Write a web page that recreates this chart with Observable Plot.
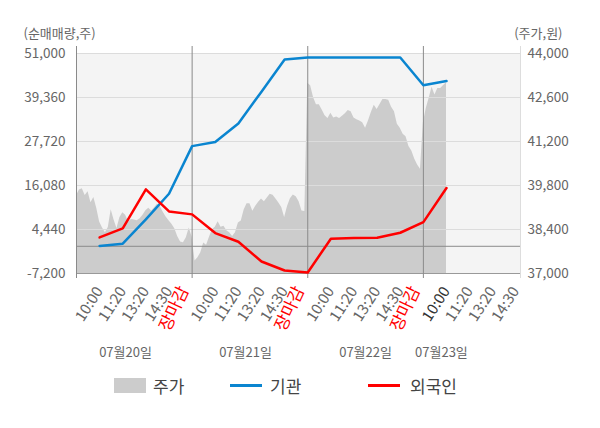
<!DOCTYPE html>
<html><head><meta charset="utf-8">
<script src="https://cdn.jsdelivr.net/npm/d3@7"></script>
<script src="https://cdn.jsdelivr.net/npm/@observablehq/plot@0.6"></script>
<style>
body{margin:0;background:#fff;font-family:"Noto Sans CJK KR","Noto Sans",sans-serif;}
#wrap{position:relative;width:600px;height:428px;overflow:hidden;}
#legend{position:absolute;left:0;top:371px;width:600px;height:30px;font-size:17px;color:#444;}
#legend .it{position:absolute;top:0;line-height:30px;}
#legend .sw{position:absolute;}
</style></head><body><div id="wrap"><div id="chart"></div>
<div id="legend">
  <div class="sw" style="left:114px;top:7px;width:32px;height:15px;background:#cccccc"></div>
  <div class="it" style="left:153px">주가</div>
  <div class="sw" style="left:230px;top:13px;width:32px;height:3px;background:#0a85d0"></div>
  <div class="it" style="left:270px">기관</div>
  <div class="sw" style="left:368px;top:13px;width:32px;height:3px;background:#ff0000"></div>
  <div class="it" style="left:410px">외국인</div>
</div></div>
<script>
const xLabels = ["10:00","11:20","13:20","14:30","장마감",
                 "10:00","11:20","13:20","14:30","장마감",
                 "10:00","11:20","13:20","14:30","장마감",
                 "10:00","11:20","13:20","14:30"];
const dayLabels = ["07월20일","07월21일","07월22일","07월23일"];
const dayLabelAt = [2.12, 7.31, 12.5, 15.78];
const leftTicks = [-7200, 4440, 16080, 27720, 39360, 51000];
const rightTicks = [37000, 38400, 39800, 41200, 42600, 44000];

// 주가 (원), sampled evenly through each session
const price20 = [39470,39660,39700,39480,39600,39250,39420,39080,38640,38450,
                 38300,38460,39030,38700,38430,38770,38930,38850,38640,38720,
                 38700,38680,38740,38850,39000,39080,38990,39090,39200,39120,
                 38950,38800,38680,38570,38420,38180,38000,37980,38140,38450];
const price21 = [38150,37400,37500,37660,37970,37900,38150,38390,38470,38650,
                 38470,38500,38360,38300,38180,38300,38610,38670,39020,39220,
                 39220,38980,39140,39270,39370,39280,39400,39520,39490,39370,
                 39240,39100,38780,39130,39380,39500,39440,39280,38990,38970];
const price22 = [43050,42970,42600,42370,42370,42200,42020,41930,42100,41950,
                 41980,41930,42000,42080,42190,42150,41950,41890,41850,41800,
                 41620,41850,42120,42350,42220,42380,42540,42540,42510,42290,
                 42150,41750,41620,41430,41350,41040,40900,40640,40450,40320];
const price23 = [41800,42250,42580,42930,42680,42890,42890,42980,43070];

// 순매매량 (주)
const inst    = [100,700,7100,13900,26500,27600,32500,40900,49400,49960,49960,49960,49960,49960,42600,43700];
const foreign = [2340,4730,15060,9230,8440,3500,1200,-4020,-6400,-6930,2000,2160,2270,3580,6400,15400];

const toLeft = p => -7200 + (p - 37000) / 7000 * 58200;
const priceData = [price20, price21, price22, price23]
  .flatMap((arr, d) => arr.map((p, k) => ({x: d * 5 + k * 0.125, y: toLeft(p)})));
const lineData = arr => arr.map((v, i) => ({x: i + 1, y: v}));
const labelData = xLabels.map((t, i) => ({x: i + 1, t, kind: t === "장마감" ? "close" : (i === 15 ? "now" : "time")}));
const fmt = v => v.toLocaleString("en-US");
const font = '"Noto Sans CJK KR","Noto Sans",sans-serif';

const chart = Plot.plot({
  width: 600, height: 365,
  marginLeft: 76, marginRight: 80, marginTop: 53, marginBottom: 92,
  x: {domain: [0, 19.2], axis: null},
  y: {domain: [-7200, 51000], axis: null},
  style: {fontFamily: font, fontSize: "13px", background: "#fff", overflow: "visible"},
  marks: [
    Plot.frame({fill: "#f4f4f4", stroke: null}),
    Plot.areaY(priceData, {x: "x", y1: -7200, y2: "y", fill: "#cccccc"}),
    Plot.ruleY(leftTicks.slice(1), {stroke: "#dcdcdc"}),
    Plot.ruleY([0], {stroke: "#8a8a8a"}),
    Plot.ruleY([-7200], {stroke: "#999"}),
    Plot.ruleX([0, 5, 10, 15], {stroke: "#8a8a8a", insetTop: -7, insetBottom: -5}),
    Plot.ruleX([19.2], {stroke: "#dddddd", insetTop: -7, insetBottom: -5}),
    Plot.line(lineData(inst), {x: "x", y: "y", stroke: "#0a85d0", strokeWidth: 2.5}),
    Plot.line(lineData(foreign), {x: "x", y: "y", stroke: "#ff0000", strokeWidth: 2.5}),
    Plot.text(leftTicks, {x: 0, y: d => d, text: d => fmt(d), textAnchor: "end", dx: -11, fill: "#666", fontSize: 13.5}),
    Plot.text(leftTicks, {x: 19.2, y: d => d, text: (d, i) => fmt(rightTicks[i]), textAnchor: "start", dx: 7, fill: "#666", fontSize: 13.5}),
    Plot.text(["(순매매량,주)"], {frameAnchor: "top-left", dx: -53, dy: -20, lineAnchor: "middle", textAnchor: "start", fill: "#666", fontSize: 13}),
    Plot.text(["(주가,원)"], {frameAnchor: "top-right", dx: 42, dy: -20, lineAnchor: "middle", textAnchor: "end", fill: "#666", fontSize: 13}),
    Plot.text(labelData.filter(d => d.kind === "time"), {x: "x", y: -7200, text: "t", rotate: -57, textAnchor: "end", lineAnchor: "middle", dx: 0, dy: 15, fill: "#666", fontSize: 15}),
    Plot.text(labelData.filter(d => d.kind === "now"), {x: "x", y: -7200, text: "t", rotate: -57, textAnchor: "end", lineAnchor: "middle", dx: 0, dy: 15, fill: "#333", fontSize: 15}),
    Plot.text(labelData.filter(d => d.kind === "close"), {x: "x", y: -7200, text: "t", rotate: -65, textAnchor: "end", lineAnchor: "middle", dx: -8, dy: 14, fill: "#ff0000", fontSize: 17}),
    Plot.text(dayLabels, {x: (d, i) => dayLabelAt[i], y: -7200, text: d => d, dy: 79, fill: "#666", fontSize: 13})
  ]
});
document.getElementById("chart").appendChild(chart);
</script></body></html>
